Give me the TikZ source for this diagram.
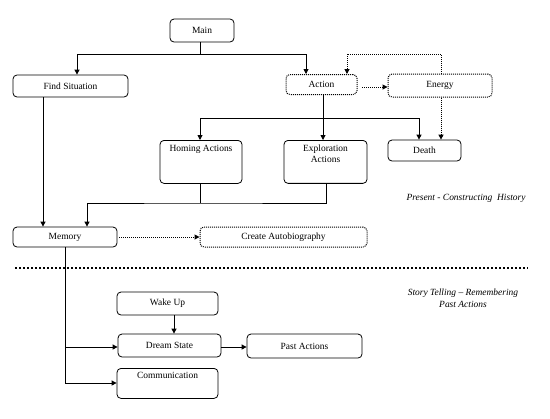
\documentclass[tikz,border=0pt]{standalone}
\usepackage{fontspec}
\setmainfont{Liberation Serif}
\usetikzlibrary{arrows.meta}
\begin{document}
\begin{tikzpicture}[x=1bp,y=-1bp,
  box/.style={draw, line width=0.8bp, rounded corners=4bp, inner sep=0pt, font=\fontsize{9.5}{11}\selectfont},
  dbox/.style={box, line width=1bp, dash pattern=on 1bp off 1bp},
  conn/.style={line width=0.9bp, -{Triangle[length=5bp,width=5bp]}},
  plain/.style={line width=0.9bp},
  dconn/.style={line width=1bp, dash pattern=on 1bp off 1bp, -{Triangle[length=5bp,width=5bp]}},
  dplain/.style={line width=1bp, dash pattern=on 1bp off 1bp},
  note/.style={font=\fontsize{9.5}{12}\selectfont\itshape, align=center, inner sep=0pt}
]
\useasboundingbox (0,0) rectangle (550,418);
% nodes
\node[box, minimum width=64bp, minimum height=23bp] (main) at (202,30.5) {Main};
\node[box, minimum width=115bp, minimum height=22bp] (find) at (70.5,86) {Find Situation};
\node[dbox, minimum width=71bp, minimum height=20bp] (action) at (321.5,84.5) {Action};
\node[dbox, minimum width=104bp, minimum height=23bp] (energy) at (440,85.5) {Energy};
\node[box, minimum width=73bp, minimum height=21bp] (death) at (424.5,150.5) {Death};
\node[box, anchor=north, minimum width=82bp, minimum height=43bp, text height=10bp, text depth=31bp] (homing) at (201,140) {Homing Actions};
\node[box, anchor=north, minimum width=83bp, align=center, text depth=21bp] (explore) at (325.5,140) {\rule{0pt}{11bp}Exploration\\Actions};
\node[box, minimum width=104bp, minimum height=20bp] (memory) at (65,237) {Memory};
\node[dbox, minimum width=167bp, minimum height=20bp] (auto) at (283.5,237) {Create Autobiography};
\node[box, minimum width=101bp, minimum height=23bp] (wake) at (167.5,303.5) {Wake Up};
\node[box, minimum width=103bp, minimum height=23bp] (dream) at (169.5,345.5) {Dream State};
\node[box, minimum width=115bp, minimum height=24bp] (past) at (304.5,346) {Past Actions};
\node[box, anchor=north, minimum width=101bp, minimum height=30bp, text height=9bp, text depth=19bp] (comm) at (167.5,368) {Communication};
\node[note] (present) at (466,198) {Present - Constructing\ \ History};
\node[note] (story) at (463,298) {Story Telling -- Remembering\\Past Actions};
% coordinates
\coordinate (m1) at (200,54);
\coordinate (b1) at (200,118);
\coordinate (b2) at (419,118);
\coordinate (e1) at (441,54);
\coordinate (e2) at (347,54);
\coordinate (h1) at (200,203);
\coordinate (x1) at (326,203);
\coordinate (k1) at (87,203);
\coordinate (r1) at (65,347);
\coordinate (r2) at (65,383);
\coordinate (s1) at (15,268);
\coordinate (s2) at (528,268);
% connectors
\draw[plain] (main.south -| m1) -- (m1);
\draw[conn] (m1) -| (find.north -| 77,0);
\draw[conn] (m1) -| (action.north -| 306,0);
\draw[conn] (action.south -| 323,0) -- (explore.north -| 323,0);
\draw[conn] (b1) -- (homing.north -| b1);
\draw[plain] (b1) -- (b2);
\draw[conn] (b2) -- (death.north -| b2);
\draw[dplain] (energy.north -| e1) -- (e1) -- (e2);
\draw[dconn] (e2) -- (action.north -| e2);
\draw[dconn] (362,87) -- (energy.west |- 0,87);
\draw[dconn] (energy.south -| e1) -- (death.north -| e1);
\draw[plain] (homing.south -| h1) -- (h1);
\draw[plain] (explore.south -| x1) -- (x1) -- (h1) -- (k1);
\draw[conn] (k1) -- (memory.north -| k1);
\draw[conn] (find.south -| 43,0) -- (memory.north -| 43,0);
\draw[dconn] (119,237) -- (auto.west);
\draw[line width=2bp, dash pattern=on 2bp off 2bp] (s1) -- (s2);
\draw[plain] (memory.south -| r1) -- (r2);
\draw[conn] (r1) -- (dream.west |- r1);
\draw[conn] (r2) -- (comm.west |- r2);
\draw[conn] (wake.south -| 174,0) -- (dream.north -| 174,0);
\draw[conn] (dream.east |- 0,347) -- (past.west |- 0,347);
\end{tikzpicture}
\end{document}
